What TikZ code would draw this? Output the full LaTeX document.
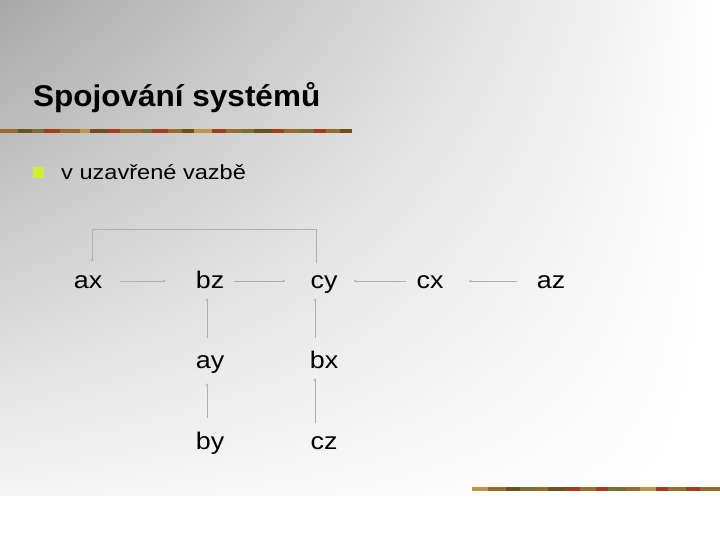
\documentclass[tikz,border=0pt]{standalone}
\usepackage{fontspec}
\setmainfont{Liberation Sans}
\newfontfamily\titlefont[FakeStretch=1.05]{Liberation Sans}
\newfontfamily\bodyfont[FakeStretch=1.12]{Liberation Sans}
\newfontfamily\itemfont[FakeStretch=1.15]{Liberation Sans}
\usetikzlibrary{arrows.meta,shadings}
\definecolor{bgdark}{RGB}{168,168,168}
\definecolor{conn}{RGB}{175,175,175}
\definecolor{bulletc}{RGB}{204,238,51}
\definecolor{ruleA}{RGB}{150,108,38}
\definecolor{ruleB}{RGB}{110,80,30}
\definecolor{ruleC}{RGB}{165,60,30}
\definecolor{ruleD}{RGB}{120,110,50}
\definecolor{ruleE}{RGB}{190,150,70}
\tikzset{
  lbl/.style={font=\bodyfont\fontsize{24}{28}\selectfont, inner sep=0pt,
    text height=17pt, text depth=5pt, anchor=base},
  conn/.style={draw=conn, line width=0.8pt, -{Stealth[length=3pt,width=2.6pt]}},
}
\begin{document}
\begin{tikzpicture}[x=1pt,y=-1pt]
\useasboundingbox (0,0) rectangle (720,540);
\fill[white] (0,0) rectangle (720,540);
\shade[upper left=bgdark, upper right=white, lower left=white!96!black, lower right=white] (0,0) rectangle (720,495);
% rules
\foreach \x/\w/\c in {0/18/ruleA,18/14/ruleB,32/12/ruleD,44/16/ruleC,60/20/ruleA,80/10/ruleE,90/18/ruleB,108/12/ruleC,120/22/ruleA,142/10/ruleD,152/16/ruleC,168/14/ruleA,182/12/ruleB,194/18/ruleE,212/14/ruleC,226/16/ruleA,242/12/ruleD,254/18/ruleB,272/12/ruleC,284/16/ruleA,300/14/ruleD,314/12/ruleC,326/14/ruleA,340/12/ruleB}{
  \fill[\c] (\x,129) rectangle ++(\w,4);
}
\foreach \x/\w/\c in {472/16/ruleE,488/18/ruleA,506/14/ruleB,520/16/ruleD,536/12/ruleA,548/18/ruleB,566/14/ruleC,580/16/ruleA,596/12/ruleC,608/18/ruleD,626/14/ruleA,640/16/ruleE,656/12/ruleC,668/18/ruleA,686/14/ruleC,700/20/ruleA}{
  \fill[\c] (\x,487) rectangle ++(\w,4);
}
% title and bullet
\node[font=\titlefont\bfseries\fontsize{30}{34}\selectfont, inner sep=0pt, anchor=base west] (title) at (33,107) {Spojování systémů};
\fill[bulletc] (33,167) rectangle (44,178);
\node[font=\itemfont\fontsize{20.5}{24}\selectfont, inner sep=0pt, anchor=base west] (item) at (61,180) {v uzavřené vazbě};
% nodes
\node[lbl] (ax) at (88,288) {ax};
\node[lbl] (bz) at (210,288) {bz};
\node[lbl] (cy) at (324,288) {cy};
\node[lbl] (cx) at (430,288) {cx};
\node[lbl] (az) at (551,288) {az};
\node[lbl] (ay) at (210,368) {ay};
\node[lbl] (bx) at (324,368) {bx};
\node[lbl] (by) at (210,449) {by};
\node[lbl] (cz) at (324,449) {cz};
% connectors
\draw[conn] ([yshift=1pt,xshift=18pt]ax.east) -- ([yshift=1pt,xshift=-30pt]bz.west);
\draw[conn] ([yshift=1pt,xshift=10pt]bz.east) -- ([yshift=1pt,xshift=-25pt]cy.west);
\draw[conn] ([yshift=1pt,xshift=-10pt]cx.west) -- ([yshift=1pt,xshift=16pt]cy.east);
\draw[conn] ([yshift=1pt,xshift=-20pt]az.west) -- ([yshift=1pt,xshift=25pt]cx.east);
\draw[conn, shorten <=13pt, shorten >=5pt] ([xshift=-3pt]ay.north) -- ([xshift=-3pt]bz.south);
\draw[conn, shorten <=14pt, shorten >=10pt] ([xshift=-3pt]by.north) -- ([xshift=-3pt]ay.south);
\draw[conn, shorten <=13pt, shorten >=5pt] ([xshift=-9pt]bx.north) -- ([xshift=-9pt]cy.south);
\draw[conn, shorten <=9pt, shorten >=5pt] ([xshift=-9pt]cz.north) -- ([xshift=-9pt]bx.south);
\coordinate (fbR) at (316,229);
\coordinate (fbL) at (92,229);
\draw[conn, shorten <=8pt, shorten >=9pt] (cy.north -| fbR) -- (fbR) -- (fbL) -- (ax.north -| fbL);
\end{tikzpicture}
\end{document}
